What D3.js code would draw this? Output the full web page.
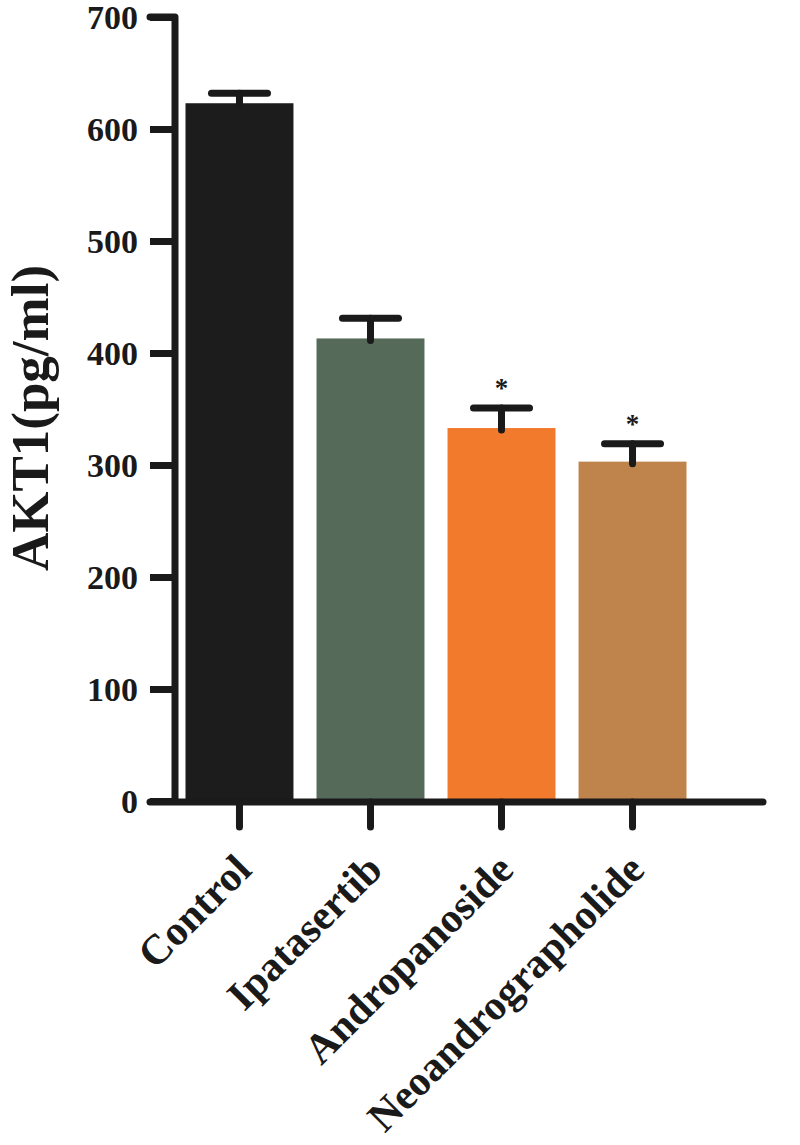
<!DOCTYPE html>
<html>
<head>
<meta charset="utf-8">
<script src="https://d3js.org/d3.v7.min.js"></script>
<style>
  body { margin: 0; background: #fff; }
  svg { display: block; font-family: "Liberation Serif", "Times New Roman", serif; font-weight: bold; }
</style>
</head>
<body>
<script>
// data
var groups = ["Control", "Ipatasertib", "Andropanoside", "Neoandrographolide"];
var means = [623, 413, 333, 303];
var sems = [9, 18, 18, 16];
var stars = ["", "", "*", "*"];
var colors = ["#1c1c1c", "#566a5a", "#f17a2c", "#bf844b"];
var yTicks = [0, 100, 200, 300, 400, 500, 600, 700];

var width = 800, height = 1145;
var axisW = 7;

var svg = d3.select("body").append("svg")
    .attr("width", width)
    .attr("height", height);

var y = d3.scaleLinear().domain([0, 700]).range([801, 17]);
var x = d3.scaleBand().domain(groups).range([185.5, 686.5])
    .paddingInner(0.176).paddingOuter(0);

// bars
svg.append("g")
  .selectAll("rect")
  .data(groups)
  .join("rect")
    .attr("x", d => x(d))
    .attr("y", (d, i) => y(means[i]))
    .attr("width", x.bandwidth())
    .attr("height", (d, i) => y(0) - y(means[i]))
    .attr("fill", (d, i) => colors[i]);

// error bars (upper half only)
var err = svg.append("g")
    .attr("stroke", "#1a1a1a")
    .attr("stroke-width", 7)
    .attr("stroke-linecap", "round");

err.selectAll("line.stem")
  .data(groups)
  .join("line")
    .attr("class", "stem")
    .attr("x1", d => x(d) + x.bandwidth() / 2)
    .attr("x2", d => x(d) + x.bandwidth() / 2)
    .attr("y1", (d, i) => y(means[i]) + 2)
    .attr("y2", (d, i) => y(means[i] + sems[i]));

err.selectAll("line.cap")
  .data(groups)
  .join("line")
    .attr("class", "cap")
    .attr("x1", d => x(d) + x.bandwidth() / 2 - 28)
    .attr("x2", d => x(d) + x.bandwidth() / 2 + 28)
    .attr("y1", (d, i) => y(means[i] + sems[i]))
    .attr("y2", (d, i) => y(means[i] + sems[i]));

// significance stars
svg.append("g")
  .selectAll("text")
  .data(groups)
  .join("text")
    .attr("x", d => x(d) + x.bandwidth() / 2)
    .attr("y", (d, i) => y(means[i] + sems[i]) - 11)
    .attr("text-anchor", "middle")
    .attr("font-size", 27)
    .attr("fill", "#1a1a1a")
    .text((d, i) => stars[i]);

// y axis
var yAxis = svg.append("g")
    .attr("transform", "translate(175,0)")
    .call(d3.axisLeft(y).tickValues(yTicks).tickSize(25).tickPadding(12).tickSizeOuter(0));
yAxis.select(".domain").remove();
yAxis.selectAll(".tick line")
    .attr("stroke", "#1a1a1a")
    .attr("stroke-width", axisW);
yAxis.selectAll(".tick text")
    .attr("font-size", 34)
    .attr("font-family", "Liberation Serif, Times New Roman, serif")
    .attr("font-weight", "bold")
    .attr("fill", "#1a1a1a")
    .attr("dy", "0.34em");

svg.append("path")
    .attr("d", `M150,${y(700)}H175V${y(0)}`)
    .attr("fill", "none")
    .attr("stroke", "#1a1a1a")
    .attr("stroke-width", axisW)
    .attr("stroke-linecap", "round")
    .attr("stroke-linejoin", "round");

// x axis
var xAxis = svg.append("g")
    .attr("transform", `translate(0,${y(0) + 1})`)
    .call(d3.axisBottom(x).tickSize(25).tickSizeOuter(0).tickFormat(""));
xAxis.select(".domain").remove();
xAxis.selectAll(".tick line")
    .attr("stroke", "#1a1a1a")
    .attr("stroke-width", axisW)
    .attr("stroke-linecap", "round");

svg.append("line")
    .attr("x1", 150).attr("x2", 763)
    .attr("y1", y(0) + 1).attr("y2", y(0) + 1)
    .attr("stroke", "#1a1a1a")
    .attr("stroke-width", axisW)
    .attr("stroke-linecap", "round");

// rotated category labels
svg.append("g")
  .selectAll("text")
  .data(groups)
  .join("text")
    .attr("transform", d => `translate(${x(d) + x.bandwidth() / 2 + 14},872) rotate(-45)`)
    .attr("text-anchor", "end")
    .attr("font-size", 42)
    .attr("fill", "#1a1a1a")
    .text(d => d);

// y title
svg.append("text")
    .attr("transform", "translate(48,418) rotate(-90)")
    .attr("text-anchor", "middle")
    .attr("font-size", 53)
    .attr("fill", "#1a1a1a")
    .text("AKT1(pg/ml)");
</script>
</body>
</html>
